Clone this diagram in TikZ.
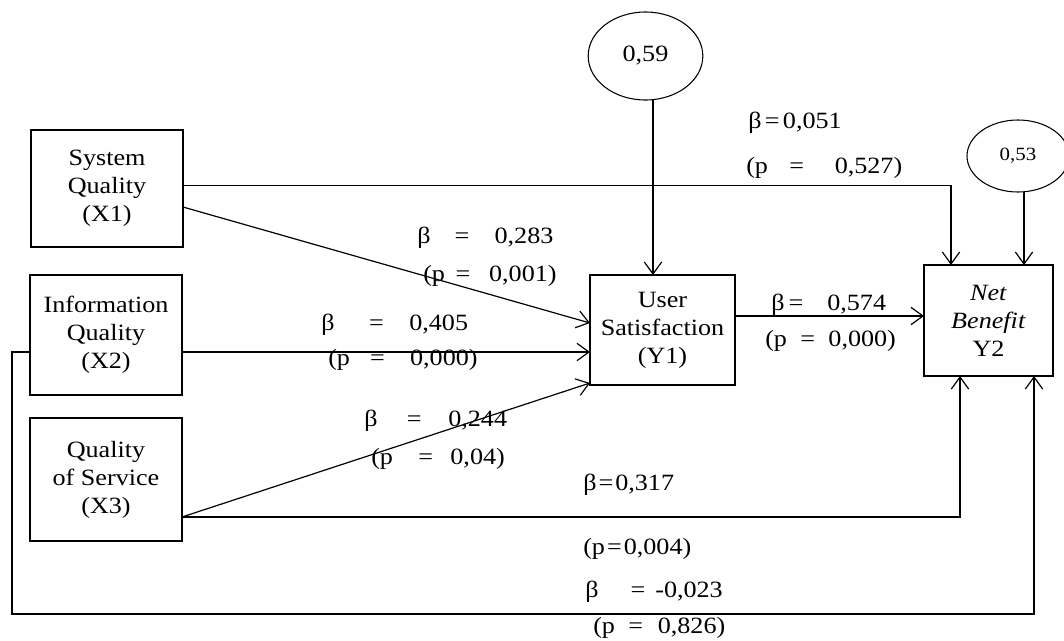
\documentclass[tikz,border=0pt]{standalone}
\usepackage{fontspec}
\setmainfont{Liberation Serif}[FakeStretch=1.12]
\usetikzlibrary{arrows.meta,calc,shapes.geometric}

\begin{document}
\begin{tikzpicture}[x=0.75pt,y=-0.75pt,font=\fontsize{17.5}{21}\selectfont,
  bx/.style={draw,line width=1pt,align=center,inner sep=0pt,outer sep=0pt},
  el/.style={draw,ellipse,line width=0.8pt,inner sep=0pt,outer sep=0pt},
  arr/.style={-{Straight Barb[length=9pt,width=13pt]},line width=0.9pt},
  lb/.style={anchor=west,inner sep=0pt}]
  \useasboundingbox (0,0) rectangle (1064,640);
  % boxes
  \node[bx,minimum width=114pt,minimum height=87.75pt] (x1) at (107,188.5) {System\\Quality\\(X1)};
  \node[bx,minimum width=114pt,minimum height=90pt] (x2) at (106,335) {Information\\Quality\\(X2)};
  \node[bx,minimum width=114pt,minimum height=92.25pt] (x3) at (106,479.5) {Quality\\of Service\\(X3)};
  \node[bx,minimum width=108.75pt,minimum height=82.5pt] (y1) at (662.5,330) {User\\Satisfaction\\(Y1)};
  \node[bx,minimum width=96.75pt,minimum height=83.25pt] (y2) at (988.5,320.5) {\textit{Net}\\\textit{Benefit}\\Y2};
  \node[el,minimum width=86pt,minimum height=66pt] (e1) at (645.5,56) {0,59};
  \node[el,minimum width=76.5pt,minimum height=54pt,font=\fontsize{14}{17}\selectfont] (e2) at (1018,156) {0,53};
  % connectors
  \draw[arr] ($(x1.east)+(0,-3)$) -| ($(y2.north west)+(27,0)$);
  \draw[arr] ($(x1.east)+(0,18.5)$) -- ($(y1.west)+(0,-7)$);
  \draw[arr] ($(x2.east)+(0,17)$) coordinate (s2) -- (s2 -| y1.west);
  \draw[arr] ($(x3.east)+(0,37.5)$) -- ($(y1.south west)+(0,-2)$);
  \draw[arr] ($(x3.east)+(0,37.5)$) -| ($(y2.south west)+(36,0)$);
  \coordinate (lo) at (12,614);
  \draw[arr] ($(x2.west)+(0,17)$) -| (lo) -| ($(y2.south east)+(-19,0)$);
  \draw[arr] ($(y1.east)+(0,-14)$) coordinate (s1) -- (s1 -| y2.west);
  \draw[arr] ($(e1.south)+(7.5,0)$) coordinate (s3) -- (s3 |- y1.north);
  \draw[arr] ($(e2.south)+(6,0)$) coordinate (s4) -- (s4 |- y2.north);
  % path labels
  \node[lb] (b1) at (748,123) {β\hspace{2.5pt}=\hspace{2.5pt}0,051};
  \node[lb] (p1) at (746,168) {(p\hspace{16pt}=\hspace{23pt}0,527)};
  \node[lb] (b2) at (417,238) {β\hspace{18pt}=\hspace{19pt}0,283};
  \node[lb] (p2) at (423,276) {(p\hspace{8pt}=\hspace{14pt}0,001)};
  \node[lb] (b3) at (321,325) {β\hspace{26pt}=\hspace{19pt}0,405};
  \node[lb] (p3) at (328,360) {(p\hspace{15pt}=\hspace{19pt}0,000)};
  \node[lb] (b4) at (771,305) {β\hspace{3pt}=\hspace{18pt}0,574};
  \node[lb] (p4) at (765,341) {(p\hspace{10pt}=\hspace{10pt}0,000)};
  \node[lb] (b5) at (364,421) {β\hspace{22pt}=\hspace{20pt}0,244};
  \node[lb] (p5) at (371,459) {(p\hspace{19pt}=\hspace{13pt}0,04)};
  \node[lb] (b6) at (583,485) {β\hspace{1.5pt}=\hspace{1.5pt}0,317};
  \node[lb] (p6) at (583,549) {(p\hspace{1.5pt}=\hspace{1.5pt}0,004)};
  \node[lb] (b7) at (585,592) {β\hspace{24pt}=\hspace{7.5pt}-0,023};
  \node[lb] (p7) at (593,628) {(p\hspace{10pt}=\hspace{11pt}0,826)};
\end{tikzpicture}
\end{document}
